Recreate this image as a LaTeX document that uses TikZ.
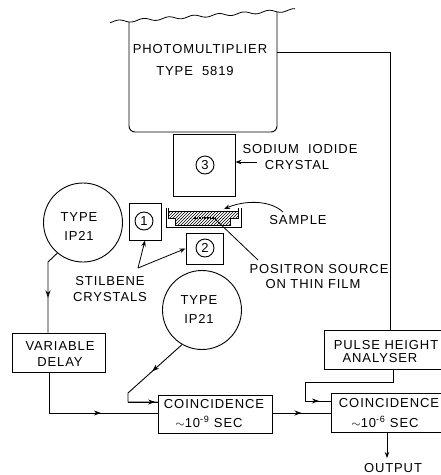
\documentclass[tikz,border=0pt]{standalone}
\usepackage{fontspec}
\setmainfont[LetterSpace=7]{Liberation Sans}
\usetikzlibrary{arrows.meta,decorations.markings,patterns}

\tikzset{
  wire/.style={line width=0.9pt},
  headat/.style={postaction={decorate},decoration={markings,mark=at position #1 with {\arrow{Stealth[length=7pt,width=5pt]}}}},
  lab/.style={font=\fontsize{13}{16}\selectfont, inner sep=0pt, align=center},
  block/.style={draw, line width=0.9pt, inner sep=0pt},
  tube/.style={draw, line width=0.9pt, circle, inner sep=0pt, minimum size=79pt},
  num/.style={draw, line width=0.9pt, circle, inner sep=0pt, minimum size=18pt, font=\fontsize{13}{13}\selectfont},
  pointer/.style={line width=0.8pt, -{Stealth[length=6pt,width=4.5pt]}}
}

\begin{document}
\begin{tikzpicture}[x=1pt,y=-1pt]
\clip (0,0) rectangle (441,475);
\fill[white] (0,0) rectangle (441,475);
% photomultiplier
\draw[line width=0.8pt] plot[domain=110:295,samples=90,smooth] (\x,{22-0.065*(\x-110)+1.4*sin(\x*14.4)});
\draw[line width=0.9pt, rounded corners=6pt] (129,22) -- (129,132) -- (277,132) -- (277,12);
\node[lab] (pmt) at (200,49) {PHOTOMULTIPLIER};
\node[lab] (pmttype) at (195,71) {TYPE \ 5819};
\coordinate (pmtout) at (277,52);
\coordinate (pmtcorner) at (390,52);
% crystals
\node[block, minimum width=62pt, minimum height=62pt] (nai) at (204,165) {};
\node[num] (three) at (205,165) {3};
\node[block, minimum width=32pt, minimum height=37pt] (stilbA) at (145,221.5) {};
\node[num] (one) at (144,221) {1};
\node[block, minimum width=37pt, minimum height=31pt] (stilbB) at (204.5,248.5) {};
\node[num] (two) at (205,248) {2};
% sample holder
\draw[line width=0.9pt] (166,208) -- (166,227) -- (241,227) -- (241,208);
\draw[line width=0.7pt] (168,208) -- (168,218) -- (175,218) -- (175,225) -- (230,225) -- (230,218) -- (238,218) -- (238,208);
\fill[pattern=north east lines] (169,211) rectangle (238,218);
\fill[pattern=north east lines] (175,218) rectangle (230,225);
\draw[line width=0.7pt] (169,211) -- (238,211);
\draw[line width=1.6pt, densely dotted] (194,218) -- (216,218);
% labels round the crystals
\node[lab] (nailab) at (300,149) {SODIUM \ IODIDE};
\node[lab] (crystlab) at (297,165) {CRYSTAL};
\coordinate (crysttip) at (257,162);
\draw[pointer] (crysttip) -- (nai.east |- crysttip);
\node[lab] (samplab) at (298,220) {SAMPLE};
\coordinate (samptail) at (283,212);
\coordinate (samptip) at (224,209);
\draw[pointer] (samptail) .. controls (270,200) and (245,200) .. (samptip);
\node[lab] (poslab) at (319,269) {POSITRON SOURCE};
\node[lab] (filmlab) at (313,284) {ON THIN FILM};
\coordinate (postail) at (258,260);
\coordinate (postip) at (214,218);
\draw[line width=0.8pt] (postail) -- (postip);
\node[lab] (stillab) at (110,289) {STILBENE\\CRYSTALS};
\coordinate (stilfork) at (138,268);
\draw[pointer] (stilfork) -- (stilbA.south);
\draw[pointer] (stilfork) -- (stilbB.west);
% tubes
\node[tube] (tubeA) at (83,222.5) {};
\node[lab] (tubeAlab) at (79,227) {TYPE\\[3pt]IP21};
\node[tube] (tubeB) at (202,310) {};
\node[lab] (tubeBlab) at (199,310) {TYPE\\[3pt]IP21};
% electronics
\node[block, minimum width=93pt, minimum height=39pt] (delay) at (58.5,352.5) {};
\node[lab] (delaylab) at (60,354) {VARIABLE\\DELAY};
\node[block, minimum width=114pt, minimum height=38pt] (coinA) at (215,414) {};
\node[lab] (coinAlab) at (214,404) {COINCIDENCE};
\node[lab] (coinAtime) at (209,422) {$\sim$10\textsuperscript{-9} SEC};
\node[block, minimum width=130pt, minimum height=39pt] (coinB) at (396,412.5) {};
\node[lab] (coinBlab) at (389,403) {COINCIDENCE};
\node[lab] (coinBtime) at (385,422) {$\sim$10\textsuperscript{-6} SEC};
\node[block, minimum width=130pt, minimum height=39pt] (pulse) at (389,349.5) {};
\node[lab] (pulselab) at (386,345) {PULSE HEIGHT};
\node[lab] (pulselab2) at (380,358) {ANALYSER};
\node[lab] (outlab) at (393,468) {OUTPUT};
% wires
\coordinate (tubeAdrop) at (48,262);
\coordinate (delaydrop) at (49,413);
\coordinate (tubeBbend) at (128,393);
\coordinate (tubeBcorner) at (128,402);
\coordinate (pulsedrop) at (393,382);
\coordinate (pulseback) at (305,382);
\coordinate (pulsein) at (305,401);
\coordinate (coinBdrop) at (387,432);
\draw[wire] (pmtout) -- (pmtcorner) -- (pulse.north -| pmtcorner);
\draw[wire, headat=0.58] (tubeA.230) -- (tubeAdrop) -- (delay.north -| tubeAdrop);
\draw[wire, headat=0.62] (delay.south -| delaydrop) -- (delaydrop) -- (coinA.west |- delaydrop);
\draw[wire, headat=0.36] (tubeB.240) -- (tubeBbend) -- (tubeBcorner) -- (tubeBcorner -| coinA.west);
\draw[wire, headat=0.92] (tubeBcorner) -- (tubeBcorner -| coinA.west);
\draw[wire, headat=0.5] (coinA.east |- delaydrop) -- (coinB.west |- delaydrop);
\draw[wire, headat=0.92] (pulse.south -| pulsedrop) -- (pulsedrop) -- (pulseback) -- (pulsein) -- (pulsein -| coinB.west);
\draw[pointer] (coinBdrop) -- (387,458);
\end{tikzpicture}
\end{document}
